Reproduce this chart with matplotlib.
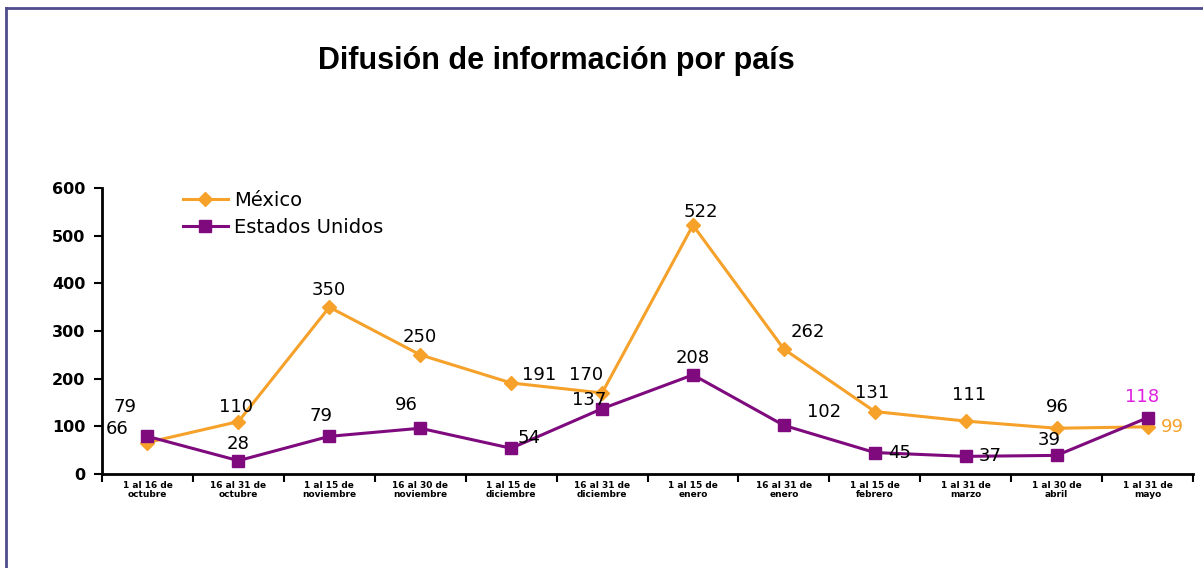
import matplotlib
matplotlib.use("Agg")
import matplotlib.pyplot as plt
from matplotlib.lines import Line2D
import numpy as np

categories = ["1 al 16 de\noctubre", "16 al 31 de\noctubre", "1 al 15 de\nnoviembre",
              "16 al 30 de\nnoviembre", "1 al 15 de\ndiciembre", "16 al 31 de\ndiciembre",
              "1 al 15 de\nenero", "16 al 31 de\nenero", "1 al 15 de\nfebrero",
              "1 al 31 de\nmarzo", "1 al 30 de\nabril", "1 al 31 de\nmayo"]
mexico = [66, 110, 350, 250, 191, 170, 522, 262, 131, 111, 96, 99]
eeuu = [79, 28, 79, 96, 54, 137, 208, 102, 45, 37, 39, 118]
yticks = [0, 100, 200, 300, 400, 500, 600]

# label offsets in pixels (dx, dy)
mex_off = [(-30, 14), (-2, 15), (0, 17), (0, 18), (28, 8), (-16, 18), (8, 13),
           (24, 17), (-3, 19), (3, 26), (1, 21), (25, 0)]
us_off = [(-22, 29), (0, 17), (-8, 20), (-14, 23), (18, 10), (-13, 9), (0, 17),
          (40, 13), (25, 0), (24, 0), (-7, 15), (-5, 21)]

ORANGE = "#F5A12A"
PURPLE = "#7E0A7E"

fig = plt.figure(figsize=(12.03, 5.68), dpi=100)
ax = fig.add_axes([0.0848, 0.1655, 0.9069, 0.5035])

x = np.arange(len(categories))
ax.plot(x, mexico, color=ORANGE, lw=2.2, marker="D", ms=7, label="México", zorder=3)
ax.plot(x, eeuu, color=PURPLE, lw=2.2, marker="s", ms=8, label="Estados Unidos", zorder=3)

for i, (v, (dx, dy)) in enumerate(zip(mexico, mex_off)):
    c = ORANGE if i == len(mexico) - 1 else "black"
    ax.annotate(str(v), (i, v), xytext=(dx, dy), textcoords="offset pixels",
                ha="center", va="center", fontsize=13, color=c, zorder=5)
for i, (v, (dx, dy)) in enumerate(zip(eeuu, us_off)):
    c = "#E020E0" if i == len(eeuu) - 1 else "black"
    ax.annotate(str(v), (i, v), xytext=(dx, dy), textcoords="offset pixels",
                ha="center", va="center", fontsize=13, color=c, zorder=5)

ax.set_xlim(-0.5, len(categories) - 0.5)
ax.set_ylim(0, 600)
ax.set_yticks(yticks)
ax.set_yticklabels([str(t) for t in yticks], fontsize=11.5, fontweight="bold")
ax.set_xticks(x)
ax.set_xticklabels(categories, fontsize=6.5, fontweight="bold", linespacing=1.05)
ax.set_xticks(np.arange(-0.5, len(categories), 1.0), minor=True)
ax.tick_params(axis="x", which="major", length=0, pad=5)
ax.tick_params(axis="x", which="minor", length=6, width=1.5, direction="out")
ax.tick_params(axis="y", length=6, width=1.5, direction="out", pad=6)
for s in ["top", "right"]:
    ax.spines[s].set_visible(False)
for s in ["left", "bottom"]:
    ax.spines[s].set_linewidth(2)

leg = ax.legend(loc="upper left", bbox_to_anchor=(0.058, 1.05), frameon=False,
                fontsize=14, handlelength=2.3, labelspacing=0.4, handletextpad=0.35)

fig.text(0.4625, 0.893, "Difusión de información por país", ha="center", va="center",
         fontsize=22, fontweight="bold",
         family=["Liberation Sans Narrow", "Liberation Sans", "DejaVu Sans"])

# figure border (top and left)
fig.add_artist(Line2D([6 / 1203, 1.0], [1 - 8 / 568, 1 - 8 / 568], color="#4E4C8C", lw=2,
                      transform=fig.transFigure))
fig.add_artist(Line2D([6 / 1203, 6 / 1203], [0, 1 - 8 / 568], color="#4E4C8C", lw=2,
                      transform=fig.transFigure))

fig.savefig("out.png", dpi=100)
